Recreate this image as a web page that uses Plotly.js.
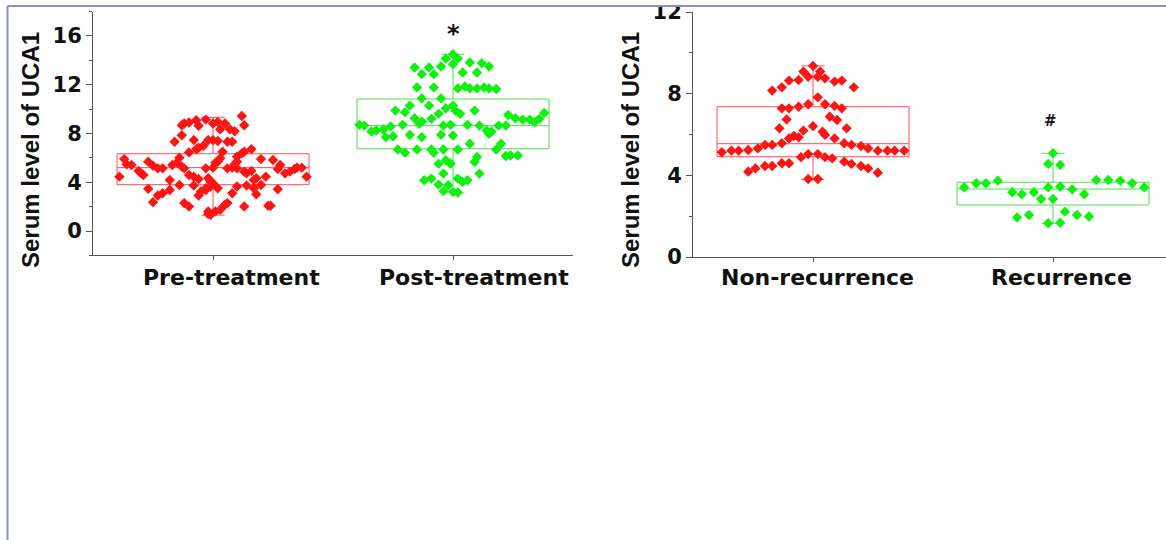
<!DOCTYPE html>
<html>
<head>
<meta charset="utf-8">
<script src="https://cdn.plot.ly/plotly-3.0.1.min.js"></script>
<style>
html,body{margin:0;padding:0;background:#fff;overflow:hidden;}
#chart{width:1166px;height:540px;}
</style>
</head>
<body>
<div id="chart"></div>
<script>
// ---------- data ----------
const leftCategories = ["Pre-treatment", "Post-treatment"];
const rightCategories = ["Non-recurrence", "Recurrence"];
const yTitle = "Serum level of UCA1";

// box statistics: [q1, median, q3, lower whisker, upper whisker]
const preBox = [3.80, 5.20, 6.34, 1.30, 9.33];
const postBox = [6.75, 8.65, 10.83, 3.18, 14.50];
const nonRecBox = [4.91, 5.55, 7.36, 3.80, 9.36];
const recBox = [2.55, 3.33, 3.66, 1.65, 5.08];

// individual sample values and their horizontal spread (category units)
const preValues = [9.44,9.09,9.14,8.82,8.68,8.90,8.82,8.95,8.82,8.68,
  8.63,7.86,8.35,8.35,8.19,7.32,7.46,7.46,7.46,7.38,
  7.32,7.32,6.83,6.72,6.99,6.45,6.72,6.50,6.37,6.50,
  6.10,6.01,5.96,5.69,5.61,5.69,5.47,5.90,5.82,5.90,
  5.47,5.41,5.69,5.36,5.14,5.14,5.41,5.63,5.28,5.14,
  5.14,5.20,5.14,5.20,5.14,5.41,5.09,4.87,5.09,5.20,
  5.20,4.46,4.93,4.73,4.60,4.60,4.46,4.27,4.33,4.87,
  4.73,4.93,4.19,4.33,4.46,4.73,4.46,4.19,4.05,3.92,
  3.65,3.51,3.51,3.78,3.73,3.65,3.73,3.51,3.78,3.43,
  3.46,3.37,3.10,2.91,2.91,3.24,3.37,3.10,3.02,2.37,
  2.29,2.01,2.15,2.29,2.01,2.07,2.07,1.61,1.33,1.39,
  1.61,1.74];
const preOffsets = [0.12,-0.07,-0.03,-0.12,-0.13,-0.10,0.00,0.02,0.05,0.13,
  -0.06,-0.13,0.03,0.07,0.09,-0.16,-0.08,-0.02,0.00,0.02,
  0.06,0.08,-0.06,-0.07,-0.04,-0.10,0.16,0.04,0.12,0.13,
  0.10,-0.14,0.03,0.02,0.01,0.10,0.09,0.20,0.25,-0.37,
  -0.36,-0.34,-0.27,-0.25,-0.23,-0.21,-0.17,-0.15,-0.13,-0.12,
  -0.03,0.00,0.06,0.08,0.10,0.28,0.27,0.32,0.34,0.35,
  0.37,-0.39,-0.31,-0.30,-0.29,-0.10,-0.08,-0.06,-0.02,0.13,
  0.14,0.16,0.17,0.18,0.22,0.30,0.39,-0.18,-0.01,0.00,
  -0.01,-0.03,0.02,-0.14,-0.08,0.10,0.14,0.17,0.20,0.27,
  -0.27,-0.18,-0.21,-0.23,-0.06,-0.05,-0.03,0.08,0.18,-0.25,
  -0.12,-0.10,0.05,0.06,0.13,0.23,0.24,-0.02,-0.01,-0.02,
  0.01,0.03];

const postValues = [14.50,14.15,14.15,13.69,13.41,13.41,13.50,13.82,13.77,13.50,
  12.87,12.87,13.01,13.01,11.78,11.78,11.70,11.86,11.70,11.70,
  11.78,11.70,11.65,10.88,10.88,9.88,10.29,9.74,10.29,10.07,
  10.29,9.88,9.61,9.88,9.52,9.25,9.14,9.14,8.93,9.20,
  9.69,9.25,8.98,8.79,9.20,9.61,8.65,8.71,8.71,8.65,
  8.16,8.24,8.33,8.57,8.71,8.71,8.65,8.24,7.97,8.16,
  8.65,8.65,7.70,7.78,7.89,7.70,7.89,7.84,6.69,6.42,
  6.69,6.69,6.42,6.69,6.69,7.16,6.69,7.16,6.15,6.20,
  6.20,5.52,5.80,5.52,5.66,6.07,4.71,4.71,4.16,4.30,
  4.30,4.03,4.16,3.81,3.76,3.27,3.21,3.16];
const postOffsets = [0.00,-0.03,0.02,0.00,-0.16,-0.10,-0.05,0.07,0.12,0.15,
  -0.13,-0.08,0.04,0.10,-0.15,-0.08,0.02,0.05,0.07,0.10,
  0.13,0.15,0.18,-0.13,-0.05,-0.24,-0.18,-0.20,-0.10,-0.03,
  0.00,0.01,0.03,0.09,0.23,0.26,0.29,0.32,0.34,0.36,
  0.38,-0.16,-0.13,-0.14,-0.09,-0.06,-0.04,-0.01,-0.39,-0.37,
  -0.34,-0.32,-0.29,-0.26,-0.21,0.06,0.11,0.14,0.15,0.16,
  0.19,0.22,-0.28,-0.25,-0.18,-0.13,-0.05,0.00,-0.23,-0.20,
  -0.15,-0.09,-0.08,-0.04,0.02,0.07,0.18,0.20,0.22,0.24,
  0.27,-0.06,-0.03,-0.01,0.09,0.10,0.11,-0.04,-0.12,-0.09,
  0.02,0.04,0.06,-0.06,-0.02,-0.04,0.00,0.02];

const nonRecValues = [9.36,9.08,9.08,8.83,8.83,8.64,8.67,8.75,8.59,8.64,
  8.15,8.31,8.31,7.82,7.28,7.28,7.36,7.48,7.48,7.40,
  7.28,6.74,6.87,6.71,6.30,6.19,6.41,6.14,5.98,6.30,
  5.81,5.93,5.86,5.81,5.32,5.49,5.49,5.57,5.57,5.49,
  5.44,5.32,5.13,5.21,5.21,5.24,5.21,5.21,5.21,5.21,
  4.89,5.04,5.04,4.89,4.83,4.18,4.34,4.46,4.46,4.59,
  4.59,4.67,4.56,4.46,4.34,4.13,3.82,3.82];
const nonRecOffsets = [0.00,-0.04,0.03,-0.02,0.02,-0.10,-0.06,0.05,0.09,0.12,
  -0.17,-0.13,0.17,0.02,-0.13,-0.10,-0.06,-0.02,0.05,0.09,
  0.12,-0.11,0.07,0.10,-0.14,-0.04,0.00,0.04,0.05,0.14,
  -0.10,-0.08,-0.06,0.09,-0.23,-0.20,-0.17,-0.13,0.13,0.16,
  0.20,0.23,-0.38,-0.34,-0.31,-0.27,0.27,0.31,0.34,0.38,
  -0.05,-0.02,0.02,0.05,0.08,-0.27,-0.24,-0.20,-0.17,-0.13,
  -0.10,0.13,0.16,0.20,0.23,0.27,-0.02,0.02];

const recValues = [5.08,4.56,4.51,3.41,3.61,3.61,3.74,3.77,3.77,3.74,
  3.61,3.41,3.41,3.44,3.31,3.17,3.07,3.17,2.84,2.84,
  3.07,1.94,2.06,2.22,2.06,1.98,1.65,1.68];
const recOffsets = [0.00,-0.02,0.03,-0.37,-0.32,-0.28,-0.23,0.18,0.23,0.28,
  0.33,0.38,-0.02,0.03,0.08,-0.17,-0.13,-0.08,-0.05,0.00,
  0.13,-0.15,-0.10,0.05,0.10,0.15,-0.02,0.03];

// ---------- styling ----------
const RED = "#ff1414", RED_BOX = "#ff4d4d";
const GREEN = "#10f010", GREEN_BOX = "#4fe04f";
const AX = "#555555";
const TICK_FONT = {family: "DejaVu Sans, Arial, sans-serif", size: 21, color: "#111", weight: "bold"};
const CAT_FONT = {family: "DejaVu Sans, Arial, sans-serif", size: 22, color: "#111", weight: "bold"};
const TITLE_FONT = {family: "Liberation Sans, Arial, sans-serif", size: 24, color: "#111", weight: "bold"};

function boxTrace(pos, s, color, xa, ya) {
  return {
    type: "box", x: [pos], q1: [s[0]], median: [s[1]], q3: [s[2]],
    lowerfence: [s[3]], upperfence: [s[4]],
    width: 0.8, whiskerwidth: 0.12, boxpoints: false,
    line: {color: color, width: 1}, fillcolor: "rgba(0,0,0,0)",
    xaxis: xa, yaxis: ya, hoverinfo: "skip", showlegend: false
  };
}
function pointTrace(pos, vals, offs, color, xa, ya) {
  return {
    type: "scatter", mode: "markers",
    x: offs.map(o => pos + o), y: vals,
    marker: {symbol: "diamond", size: 8, color: color, line: {width: 0}},
    xaxis: xa, yaxis: ya, hoverinfo: "skip", showlegend: false
  };
}

const data = [
  boxTrace(0, preBox, RED_BOX, "x", "y"),
  boxTrace(1, postBox, GREEN_BOX, "x", "y"),
  boxTrace(0, nonRecBox, RED_BOX, "x2", "y2"),
  boxTrace(1, recBox, GREEN_BOX, "x2", "y2"),
  pointTrace(0, preValues, preOffsets, RED, "x", "y"),
  pointTrace(1, postValues, postOffsets, GREEN, "x", "y"),
  pointTrace(0, nonRecValues, nonRecOffsets, RED, "x2", "y2"),
  pointTrace(1, recValues, recOffsets, GREEN, "x2", "y2")
];

const W = 1166, H = 540;
const px = v => v / W;          // page x -> paper
const py = v => 1 - v / H;      // page y -> paper

function xAxis(dom, rng, anchor) {
  return {
    domain: dom, range: rng, anchor: anchor,
    showline: true, linecolor: AX, linewidth: 1,
    tickvals: [0, 1], ticktext: ["", ""], ticks: "outside", ticklen: 4,
    tickcolor: AX, showgrid: false, zeroline: false, fixedrange: true
  };
}
function yAxis(dom, rng, anchor) {
  return {
    domain: dom, range: rng, anchor: anchor,
    showline: true, linecolor: AX, linewidth: 1,
    tick0: 0, dtick: 4, ticks: "outside", ticklen: 6, tickcolor: AX,
    minor: {ticks: "outside", ticklen: 3, tick0: 0, dtick: 2, tickcolor: AX},
    tickfont: TICK_FONT, showgrid: false, zeroline: false, fixedrange: true
  };
}

const annotations = [];
function catLabel(text, pos, xa, shift) {
  annotations.push({text: text, xref: xa, x: pos, xshift: shift, yref: "paper", y: py(277),
    yanchor: "middle", xanchor: "center", showarrow: false, font: CAT_FONT});
}
catLabel(leftCategories[0], 0, "x", 18);
catLabel(leftCategories[1], 1, "x", 21);
catLabel(rightCategories[0], 0, "x2", 4);
catLabel(rightCategories[1], 1, "x2", 8);

annotations.push({text: yTitle, textangle: -90, xref: "paper", x: px(30), yref: "paper", y: py(150),
  xanchor: "center", yanchor: "middle", showarrow: false, font: TITLE_FONT});
annotations.push({text: yTitle, textangle: -90, xref: "paper", x: px(630), yref: "paper", y: py(150),
  xanchor: "center", yanchor: "middle", showarrow: false, font: TITLE_FONT});

annotations.push({text: "*", xref: "x", x: 1, yref: "paper", y: py(34), xanchor: "center", yanchor: "middle",
  showarrow: false, font: {family: "DejaVu Sans, Arial, sans-serif", size: 24, color: "#111", weight: "bold"}});
annotations.push({text: "#", xref: "x2", x: 0.99, yref: "paper", y: py(121), xanchor: "center", yanchor: "middle",
  showarrow: false, font: {family: "DejaVu Sans, Arial, sans-serif", size: 15, color: "#111", weight: "bold"}});

const FRAME = "#8a91b8";
const shapes = [
  {type: "rect", xref: "paper", yref: "paper", x0: 0, x1: 1, y0: py(6), y1: 1,
    fillcolor: "#ffffff", line: {width: 0}, layer: "above"},
  {type: "line", xref: "paper", yref: "paper", x0: px(7.5), x1: px(7.5), y0: 0, y1: py(6),
    line: {color: FRAME, width: 2}, layer: "above"},
  {type: "line", xref: "paper", yref: "paper", x0: px(7.5), x1: 1, y0: py(6), y1: py(6),
    line: {color: FRAME, width: 2}, layer: "above"}
];

const layout = {
  width: W, height: H, margin: {l: 0, r: 0, t: 0, b: 0},
  paper_bgcolor: "#ffffff", plot_bgcolor: "#ffffff", showlegend: false,
  xaxis: xAxis([px(93), px(573)], [-0.5, 1.5], "y"),
  yaxis: yAxis([py(255.4), py(11.6)], [-2, 18], "x"),
  xaxis2: xAxis([px(693), 1], [-0.5, 1.4708], "y2"),
  yaxis2: yAxis([py(257), py(12)], [0, 12], "x2"),
  annotations: annotations, shapes: shapes
};

Plotly.newPlot("chart", data, layout, {displayModeBar: false, staticPlot: true});
</script>
</body>
</html>
